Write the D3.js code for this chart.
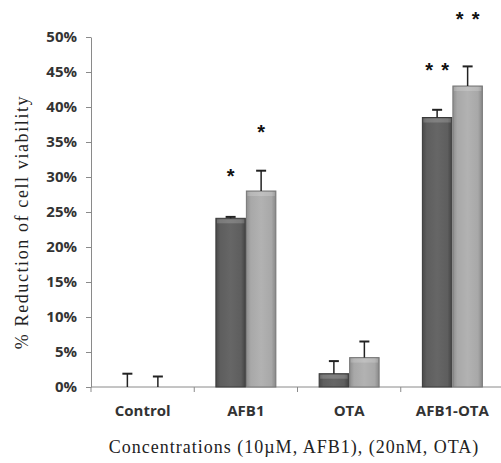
<!DOCTYPE html>
<html>
<head>
<meta charset="utf-8">
<script src="https://cdn.jsdelivr.net/npm/d3@7"></script>
<style>
  body { margin: 0; background: #fff; }
  .tick text { font-family: "Open Sans", "Liberation Sans", sans-serif; }
</style>
</head>
<body>
<script>
(function () {

    //chart data
    var categories = ["Control", "AFB1", "OTA", "AFB1-OTA"];
    var darkValues = [0, 24.1, 1.9, 38.5];
    var darkErrors = [1.9, 0.2, 1.8, 1.1];
    var lightValues = [0, 28.0, 4.2, 43.0];
    var lightErrors = [1.5, 2.9, 2.3, 2.8];
    var darkMarks = ["", "*", "", "**"];
    var darkMarkAt = [0, 30.3, 0, 45.4];
    var lightMarks = ["", "*", "", "**"];
    var lightMarkAt = [0, 36.6, 0, 52.7];
    var yTicks = [0, 5, 10, 15, 20, 25, 30, 35, 40, 45, 50];

    var width = 501, height = 463;
    var left = 91, right = 504, top = 37, bottom = 387;

    var svg = d3.select("body").append("svg")
        .attr("width", width)
        .attr("height", height);

    //gradients for the shaded bars
    var defs = svg.append("defs");
    function makeGrad(id, stops) {
        var g = defs.append("linearGradient").attr("id", id)
            .attr("x1", "0%").attr("x2", "100%").attr("y1", "0%").attr("y2", "0%");
        stops.forEach(function (s) {
            g.append("stop").attr("offset", s[0]).attr("stop-color", s[1]);
        });
    }
    makeGrad("gDark", [["0%", "#4a4a4a"], ["15%", "#5e5e5e"], ["50%", "#666"], ["85%", "#5e5e5e"], ["100%", "#444"]]);
    makeGrad("gLight", [["0%", "#8e8e8e"], ["15%", "#a8a8a8"], ["50%", "#b2b2b2"], ["85%", "#a8a8a8"], ["100%", "#888"]]);

    var x = d3.scaleBand().domain(categories).range([left, right]);
    var y = d3.scaleLinear().domain([0, 50]).range([bottom, top]);
    var barW = 29.5;

    //y axis
    var yAxis = d3.axisLeft(y).tickValues(yTicks).tickSize(5).tickSizeOuter(0)
        .tickFormat(function (d) { return d + "%"; });
    var ya = svg.append("g").attr("transform", "translate(" + left + ",0)").call(yAxis);
    ya.select(".domain").attr("stroke", "#8a8a8a");
    ya.selectAll(".tick line").attr("stroke", "#8a8a8a");
    ya.selectAll(".tick text").attr("x", -14).attr("font-size", 15)
        .attr("font-weight", "bold").attr("fill", "#333");

    //x axis
    var xa = svg.append("g").attr("transform", "translate(0," + bottom + ")");
    xa.append("line").attr("x1", left).attr("x2", right).attr("stroke", "#8a8a8a");
    categories.forEach(function (c, i) {
        var bx = x(c);
        xa.append("line").attr("x1", bx).attr("x2", bx).attr("y1", 0).attr("y2", 5)
            .attr("stroke", "#8a8a8a");
        xa.append("text").attr("x", bx + x.bandwidth() / 2).attr("y", 29)
            .attr("text-anchor", "middle")
            .attr("font-family", "Open Sans, Liberation Sans, sans-serif")
            .attr("font-size", 15).attr("font-weight", "bold").attr("fill", "#333")
            .text(c);
    });

    //bars, error bars and significance marks
    function drawSeries(values, errors, marks, markAt, offset, fill, stroke) {
        categories.forEach(function (c, i) {
            var cx = x(c) + x.bandwidth() / 2 + offset;
            var v = values[i];
            if (v > 0) {
                svg.append("rect")
                    .attr("x", cx - barW / 2).attr("y", y(v))
                    .attr("width", barW).attr("height", bottom - y(v))
                    .attr("fill", fill).attr("stroke", stroke).attr("stroke-width", 1);
                svg.append("rect")
                    .attr("x", cx - barW / 2 + 1).attr("y", y(v) + 1)
                    .attr("width", barW - 2).attr("height", 4)
                    .attr("fill", "#fff").attr("opacity", 0.18);
            }
            var top = y(v + errors[i]);
            svg.append("line").attr("x1", cx).attr("x2", cx)
                .attr("y1", y(v)).attr("y2", top)
                .attr("stroke", "#222").attr("stroke-width", 1.5);
            svg.append("line").attr("x1", cx - 5).attr("x2", cx + 5)
                .attr("y1", top).attr("y2", top)
                .attr("stroke", "#222").attr("stroke-width", 2);
            var n = marks[i].length;
            for (var k = 0; k < n; k++) {
                svg.append("text")
                    .attr("x", cx + (k - (n - 1) / 2) * 16)
                    .attr("y", y(markAt[i]) + 8)
                    .attr("text-anchor", "middle")
                    .attr("font-family", "Liberation Sans, sans-serif")
                    .attr("font-size", 20).attr("font-weight", "bold").attr("fill", "#111")
                    .text(marks[i][k]);
            }
        });
    }
    drawSeries(darkValues, darkErrors, darkMarks, darkMarkAt, -barW / 2 - 0.5, "url(#gDark)", "#3a3a3a");
    drawSeries(lightValues, lightErrors, lightMarks, lightMarkAt, barW / 2 + 0.5, "url(#gLight)", "#777");

    //axis titles
    svg.append("text")
        .attr("transform", "translate(28,222) rotate(-90)")
        .attr("text-anchor", "middle")
        .attr("font-family", "Liberation Serif, serif")
        .attr("font-size", 18).attr("letter-spacing", 1.6).attr("fill", "#222")
        .text("% Reduction of cell viability");

    svg.append("text")
        .attr("x", 294).attr("y", 453)
        .attr("text-anchor", "middle")
        .attr("font-family", "Liberation Serif, serif")
        .attr("font-size", 18).attr("letter-spacing", 1).attr("fill", "#222")
        .text("Concentrations (10µM, AFB1), (20nM, OTA)");

})();
</script>
</body>
</html>
